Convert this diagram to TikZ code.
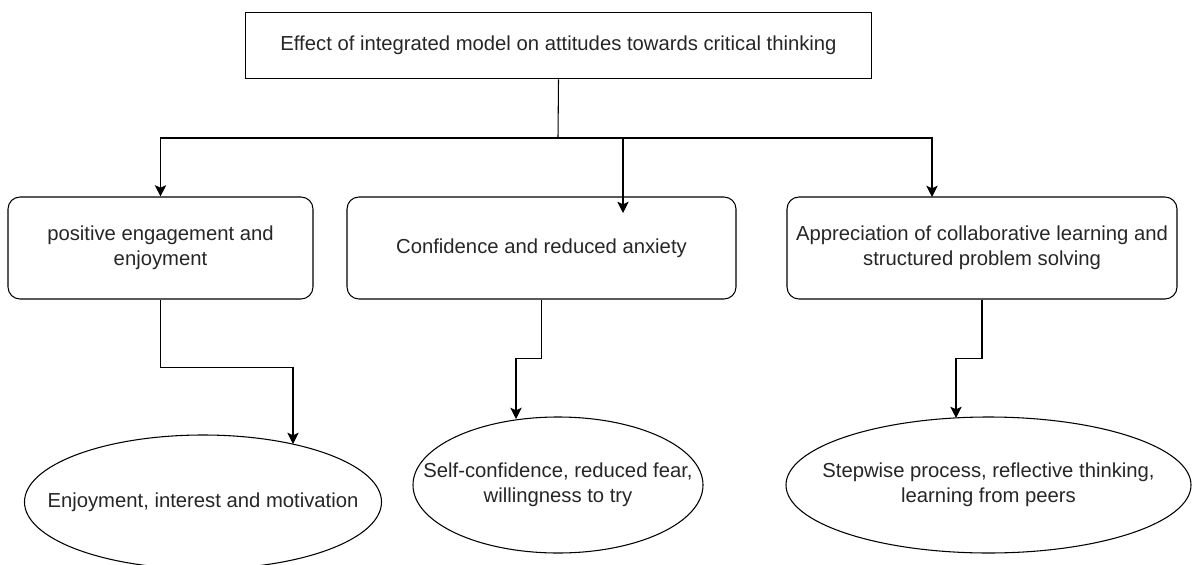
\documentclass[tikz,border=0pt]{standalone}
\usepackage{fontspec}
\setmainfont{Liberation Sans}
\usetikzlibrary{arrows.meta,shapes.geometric}

\tikzset{
    txt/.style={font=\fontsize{15.2}{18.75}\selectfont, align=center, text=black!85},
    titlebox/.style={txt, draw, rectangle, minimum width=470pt, minimum height=50pt, inner sep=0pt},
    themebox/.style={txt, draw, rectangle, rounded corners=9pt, minimum height=76.5pt, inner sep=0pt},
    outcome/.style={draw, ellipse, inner sep=0pt},
    link/.style={-{Stealth[length=8.5pt,width=8.5pt,inset=2pt]}},
}

\begin{document}
\begin{tikzpicture}[x=0.75pt,y=-0.75pt,line width=0.8pt]
    \useasboundingbox (0,0) rectangle (1192,564);
    % heading
    \node[titlebox] (title) at (558.5,45.5)
        {Effect of integrated model on attitudes towards critical thinking};
    % themes
    \node[themebox, minimum width=228.75pt] (pos) at (160.5,248)
        {positive engagement and\\enjoyment};
    \node[themebox, minimum width=291.75pt] (conf) at (541.5,248)
        {Confidence and reduced anxiety};
    \node[themebox, minimum width=292.5pt] (app) at (982,248)
        {Appreciation of collaborative learning and\\structured problem solving};
    % outcomes (ellipse drawn first, text set on top)
    \node[outcome, minimum width=267.75pt, minimum height=100.5pt] (enj) at (203,502) {};
    \node[txt] (enjtxt) at (enj.center) {Enjoyment, interest and motivation};
    \node[outcome, minimum width=217.5pt, minimum height=102pt] (self) at (558,485) {};
    \node[txt] (selftxt) at (self.center) {Self-confidence, reduced fear,\\willingness to try};
    \node[outcome, minimum width=303.75pt, minimum height=102pt] (step) at (988.5,485) {};
    \node[txt] (steptxt) at (step.center) {Stepwise process, reflective thinking,\\learning from peers};
    % connectors
    \coordinate (hub) at (558,138);
    \coordinate (confin) at (623,213);
    \coordinate (appin) at (932,197);
    \coordinate (enjin) at (293,444);
    \coordinate (selfin) at (516,419);
    \coordinate (stepin) at (956,418);
    \draw (title.south) -- (hub);
    \draw[link] (hub) -| (pos.north);
    \draw[link] (hub) -| (confin);
    \draw[link] (hub) -| (appin);
    \draw[link] (pos.south) -- ++(0,68) -| (enjin);
    \draw[link] (conf.south) -- ++(0,59) -| (selfin);
    \draw[link] (app.south) -- ++(0,59) -| (stepin);
\end{tikzpicture}
\end{document}
